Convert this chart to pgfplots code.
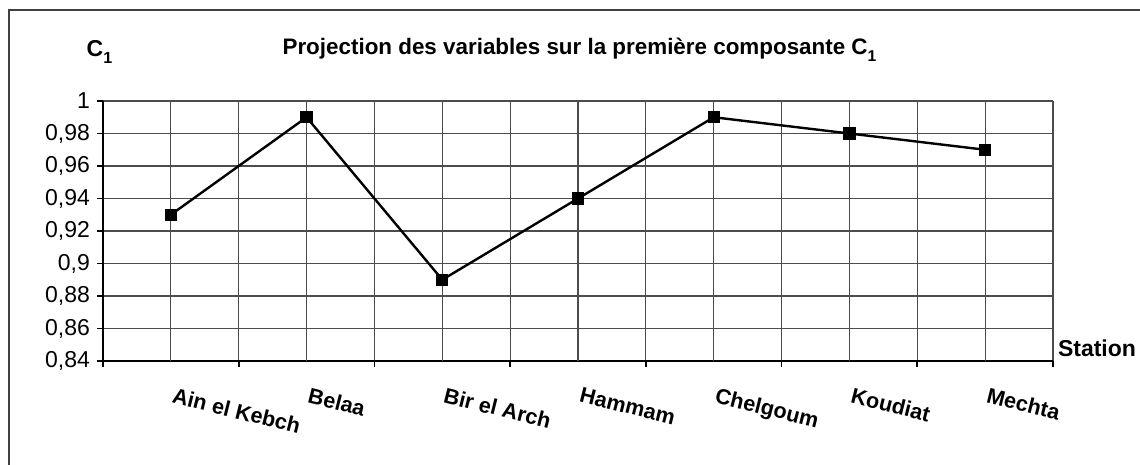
\documentclass[border=0pt]{standalone}
\usepackage{pgfplots}
\pgfplotsset{compat=1.18}
\usepackage{fontspec}
\setmainfont{Liberation Sans}
\begin{document}
\begin{tikzpicture}
\path[use as bounding box] (0,0) rectangle (570pt,232.5pt);
\draw[line width=1pt, black!75] (4.5pt,-2pt) -- (4.5pt,227.5pt) -- (572pt,227.5pt);
\begin{axis}[
  at={(51.5pt,52pt)}, anchor=south west,
  scale only axis, width=475pt, height=130pt,
  xmin=0.5, xmax=7.5, ymin=0.84, ymax=1,
  axis x line=bottom, axis y line=left,
  axis line style={-, black, line width=0.8pt},
  tick align=outside, major tick length=3pt,
  tick style={black, line width=0.8pt},
  xtick={0.5,1.5,2.5,3.5,4.5,5.5,6.5,7.5},
  xticklabels={},
  ytick={0.84,0.86,0.88,0.9,0.92,0.94,0.96,0.98,1},
  grid=major,
  major grid style={black!70, line width=0.6pt},
  extra x ticks={1,2,3,4,5,6,7},
  extra x tick labels={Ain el Kebch,Belaa,Bir el Arch,Hammam,Chelgoum,Koudiat,Mechta},
  extra x tick style={major tick length=0pt, grid=major,
    tick label style={rotate=-14, anchor=north west, inner sep=0pt, yshift=-12pt, xshift=5pt, font=\bfseries\fontsize{10.8}{12}\selectfont}},
  yticklabel style={font=\fontsize{11.5}{13}\selectfont, /pgf/number format/.cd, fixed, use comma, precision=2, assume math mode=true},
  clip=false,
]
\addplot[black, line width=1.2pt, mark=square*, mark size=2.5pt, mark options={solid}] coordinates {
(1,0.93) (2,0.99) (3,0.89) (4,0.94) (5,0.99) (6,0.98) (7,0.97)};
\end{axis}
\node[font=\bfseries\fontsize{11.2}{13}\selectfont] at (290pt,207.5pt) {Projection des variables sur la première composante C\textsubscript{\raisebox{-0.4ex}{1}}};
\node[font=\bfseries\fontsize{11.5}{13}\selectfont] at (50pt,206.5pt) {C\textsubscript{\raisebox{-0.4ex}{1}}};
\node[font=\bfseries\fontsize{11.5}{13}\selectfont] at (548.5pt,58.5pt) {Station};
\end{tikzpicture}
\end{document}
